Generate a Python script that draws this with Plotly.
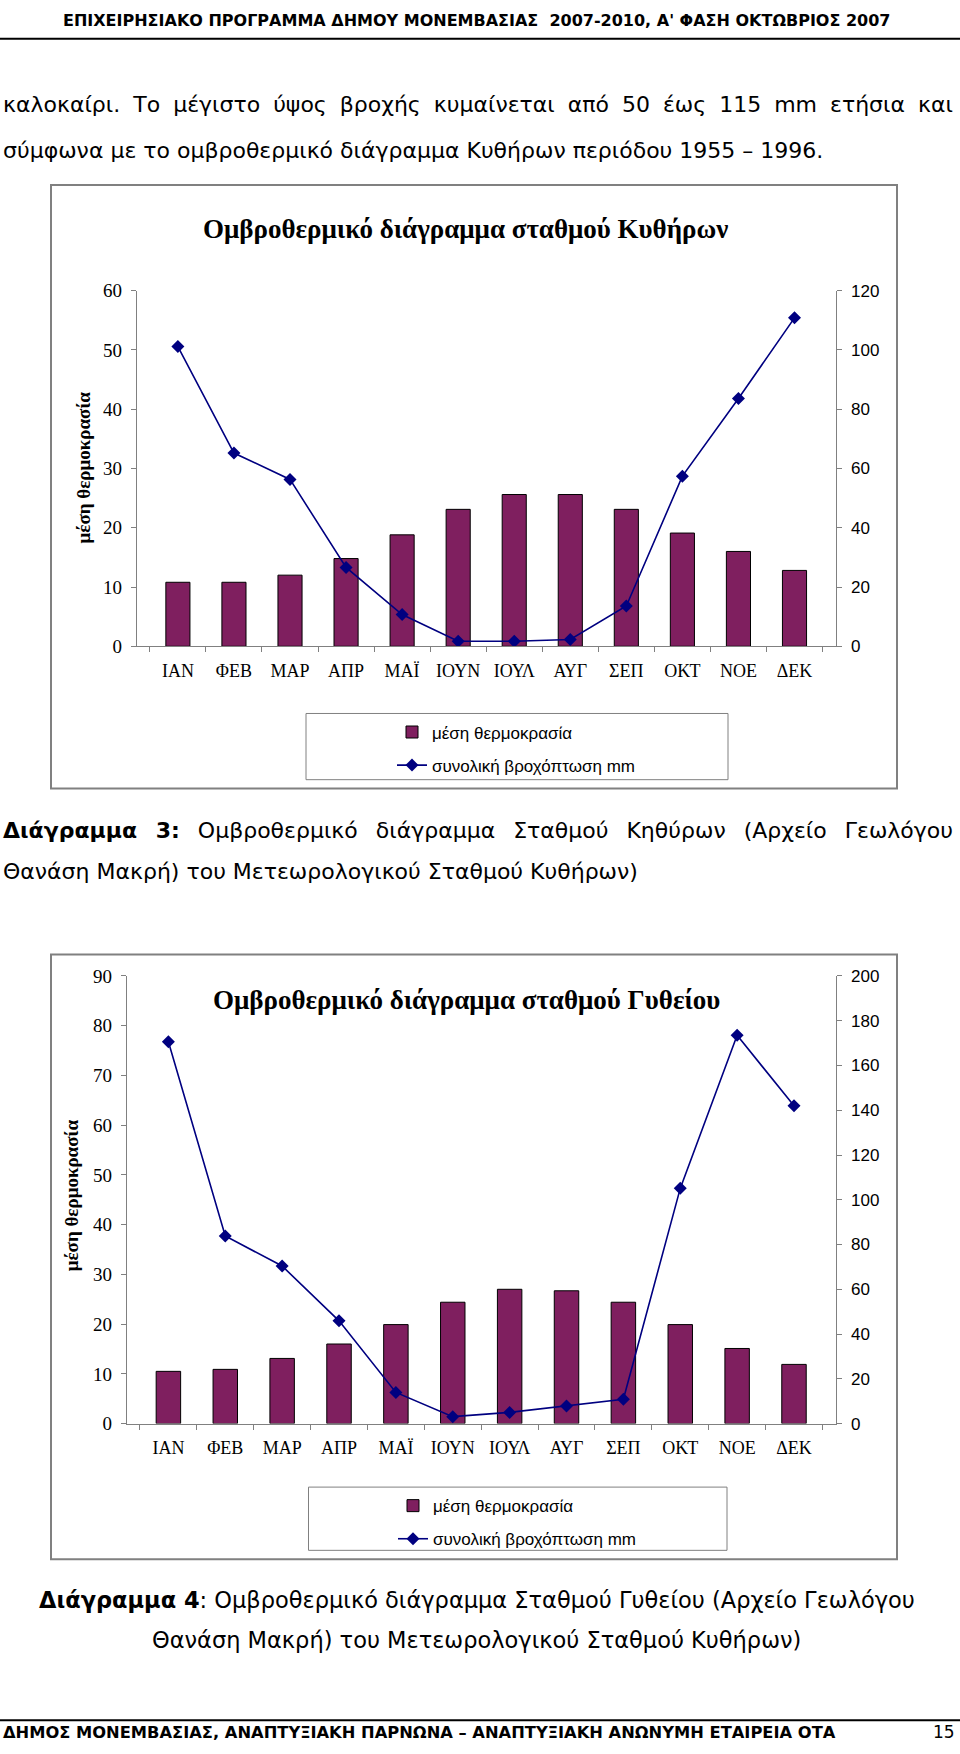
import plotly.graph_objects as go

W, H = 960, 1754

months = ["ΙΑΝ", "ΦΕΒ", "ΜΑΡ", "ΑΠΡ", "ΜΑΪ", "ΙΟΥΝ", "ΙΟΥΛ", "ΑΥΓ", "ΣΕΠ", "ΟΚΤ", "ΝΟΕ", "ΔΕΚ"]
kythira_temp = [10.8, 10.8, 12.0, 14.8, 18.8, 23.1, 25.6, 25.6, 23.1, 19.1, 16.0, 12.8]
kythira_rain = [101.1, 65.2, 56.3, 26.6, 10.7, 1.7, 1.7, 2.3, 13.6, 57.4, 83.6, 110.8]
gytheio_temp = [10.5, 10.9, 13.1, 16.0, 19.9, 24.4, 27.0, 26.7, 24.4, 19.9, 15.1, 11.9]
gytheio_rain = [170.6, 83.8, 70.4, 45.9, 13.9, 3.1, 5.0, 7.9, 10.9, 105.1, 173.5, 142.0]

temp_name = "μέση θερμοκρασία"
rain_name = "συνολική βροχόπτωση mm"

BAR = "#7F1F5F"
NAVY = "#000080"
GRAY = "#808080"
SERIF = "Liberation Serif"
SANS = "Liberation Sans"
BODY = "DejaVu Sans"


def px(x):
    return x / W


def py(y):
    return 1 - y / H


fig = go.Figure()

fig.add_trace(go.Bar(x=months, y=kythira_temp, xaxis="x", yaxis="y", name=temp_name,
                     marker=dict(color=BAR, line=dict(color="black", width=1)),
                     legend="legend", legendgroup="t1"))
fig.add_trace(go.Scatter(x=months, y=kythira_rain, xaxis="x", yaxis="y2", name=rain_name,
                         mode="lines+markers", line=dict(color=NAVY, width=1.6),
                         marker=dict(symbol="diamond", size=10, color=NAVY),
                         legend="legend", legendgroup="r1"))
fig.add_trace(go.Bar(x=months, y=gytheio_temp, xaxis="x2", yaxis="y3", name=temp_name,
                     marker=dict(color=BAR, line=dict(color="black", width=1)),
                     legend="legend2", legendgroup="t2"))
fig.add_trace(go.Scatter(x=months, y=gytheio_rain, xaxis="x2", yaxis="y4", name=rain_name,
                         mode="lines+markers", line=dict(color=NAVY, width=1.6),
                         marker=dict(symbol="diamond", size=10, color=NAVY),
                         legend="legend2", legendgroup="r2"))

xcommon = dict(type="category", showline=True, linecolor=GRAY, linewidth=1,
               ticks="outside", tickson="boundaries", ticklen=5, tickcolor=GRAY,
               showgrid=False, zeroline=False, ticklabelstandoff=8,
               tickfont=dict(family=SERIF, size=18, color="black"))
yleft = dict(showline=True, linecolor=GRAY, linewidth=1, ticks="outside", ticklen=5,
             tickcolor=GRAY, showgrid=False, zeroline=False, ticklabelstandoff=5,
             tickfont=dict(family=SERIF, size=19, color="black"))
yright = dict(showline=True, linecolor=GRAY, linewidth=1, ticks="outside", ticklen=5,
              tickcolor=GRAY, showgrid=False, zeroline=False, ticklabelstandoff=6,
              tickfont=dict(family=SANS, size=17, color="black"), side="right")

fig.update_layout(
    width=W, height=H, autosize=False,
    margin=dict(l=0, r=0, t=0, b=0),
    paper_bgcolor="white", plot_bgcolor="rgba(0,0,0,0)",
    bargap=0.57,
    xaxis=dict(domain=[px(136.7), px(835.7)], anchor="y", **xcommon),
    yaxis=dict(domain=[py(644), py(284)], anchor="x", range=[0, 60], dtick=10, **yleft),
    yaxis2=dict(overlaying="y", anchor="x", range=[0, 120], dtick=20, **yright),
    xaxis2=dict(domain=[px(126.7), px(835.7)], anchor="y3", **xcommon),
    yaxis3=dict(domain=[py(1430.7), py(977.7)], anchor="x2", range=[0, 90], dtick=10, **yleft),
    yaxis4=dict(overlaying="y3", anchor="x2", range=[0, 200], dtick=20, **yright),
    legend=dict(x=px(392), y=py(713), xanchor="left", yanchor="top",
                bgcolor="rgba(0,0,0,0)", borderwidth=0, tracegroupgap=8,
                font=dict(family=SANS, size=17, color="black")),
    legend2=dict(x=px(393), y=py(1496), xanchor="left", yanchor="top",
                 bgcolor="rgba(0,0,0,0)", borderwidth=0, tracegroupgap=8,
                 font=dict(family=SANS, size=17, color="black")),
)

shapes = []


def rect(x0, y0, x1, y1, color=GRAY, width=1.5):
    shapes.append(dict(type="rect", xref="paper", yref="paper",
                       x0=px(x0), x1=px(x1), y0=py(y1), y1=py(y0),
                       line=dict(color=color, width=width), fillcolor="rgba(0,0,0,0)"))


def hline(y, color="black", width=2):
    shapes.append(dict(type="line", xref="paper", yref="paper",
                       x0=0, x1=1, y0=py(y), y1=py(y), line=dict(color=color, width=width)))


rect(51, 177, 897, 788, width=2)
rect(51, 956, 897, 1568, width=2)
rect(306, 712, 728, 779, width=1)
rect(308.5, 1495, 727, 1559, width=1)
hline(29)
hline(1731)

fig.update_layout(shapes=shapes)

ann = []


def text(s, x, y, size, family=BODY, xanchor="left", color="black", angle=0):
    ann.append(dict(text=s, xref="paper", yref="paper", x=px(x), y=py(y),
                    xanchor=xanchor, yanchor="middle", showarrow=False, textangle=angle,
                    font=dict(family=family, size=size, color=color)))


def justified(s, spacing):
    return '<span style="word-spacing:%dpx">%s</span>' % (spacing, s)


BS = 22
HS = 16

text("<b>ΕΠΙΧΕΙΡΗΣΙΑΚΟ ΠΡΟΓΡΑΜΜΑ ΔΗΜΟΥ ΜΟΝΕΜΒΑΣΙΑΣ  2007-2010, Α' ΦΑΣΗ ΟΚΤΩΒΡΙΟΣ 2007</b>",
     477, 11, HS, xanchor="center")
text(justified("καλοκαίρι. Το μέγιστο ύψος βροχής κυμαίνεται από 50 έως 115 mm ετήσια και", 6),
     1, 96, BS)
text("σύμφωνα με το ομβροθερμικό διάγραμμα Κυθήρων περιόδου 1955 – 1996.", 1, 142, BS)

text("<b>Ομβροθερμικό διάγραμμα σταθμού Κυθήρων</b>", 465, 221.7, 27, family=SERIF, xanchor="center")
text("<b>μέση θερμοκρασία</b>", 83, 463, 19, family=SERIF, xanchor="center", angle=-90)

text(justified("<b>Διάγραμμα 3:</b> Ομβροθερμικό διάγραμμα Σταθμού Κηθύρων (Αρχείο Γεωλόγου", 11),
     1, 830, BS)
text("Θανάση Μακρή) του Μετεωρολογικού Σταθμού Κυθήρων)", 1, 872, BS)

text("<b>Ομβροθερμικό διάγραμμα σταθμού Γυθείου</b>", 466, 1001.7, 27, family=SERIF, xanchor="center")
text("<b>μέση θερμοκρασία</b>", 71.7, 1200, 19, family=SERIF, xanchor="center", angle=-90)

text("<b>Διάγραμμα 4</b>: Ομβροθερμικό διάγραμμα Σταθμού Γυθείου (Αρχείο Γεωλόγου", 477, 1609, 22.5, xanchor="center")
text("Θανάση Μακρή) του Μετεωρολογικού Σταθμού Κυθήρων)", 476, 1650, 22.5, xanchor="center")

text("<b>ΔΗΜΟΣ ΜΟΝΕΜΒΑΣΙΑΣ, ΑΝΑΠΤΥΞΙΑΚΗ ΠΑΡΝΩΝΑ – ΑΝΑΠΤΥΞΙΑΚΗ ΑΝΩΝΥΜΗ ΕΤΑΙΡΕΙΑ ΟΤΑ</b>", 1, 1743, 16.3)
text("15", 957, 1743, 17, xanchor="right")

fig.update_layout(annotations=ann)

fig.write_html(
    "out.html",
    config={"displayModeBar": False},
    post_script="document.body.style.margin='0px';document.body.style.overflow='hidden';",
)
